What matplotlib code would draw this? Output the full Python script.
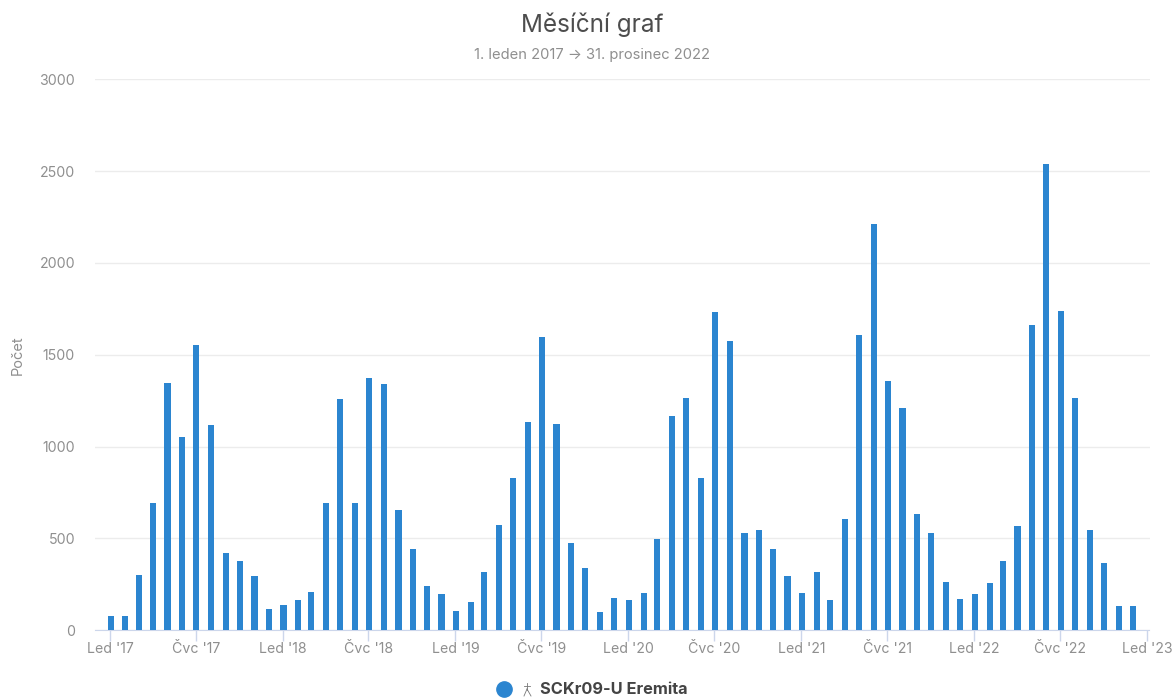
import pandas as pd
import matplotlib.pyplot as plt
from matplotlib.lines import Line2D

plt.rcParams['font.family'] = ['Inter', 'DejaVu Sans']

months = pd.date_range('2017-01-01', '2022-12-01', freq='MS')
counts = [
    80, 80, 300, 695, 1345, 1050, 1555, 1120, 420, 375, 295, 115,
    140, 165, 210, 695, 1260, 695, 1375, 1340, 655, 440, 240, 195,
    105, 155, 320, 575, 830, 1135, 1595, 1125, 475, 340, 100, 175,
    165, 205, 495, 1165, 1265, 830, 1735, 1575, 530, 545, 445, 295,
    205, 315, 165, 605, 1610, 2210, 1360, 1210, 635, 530, 265, 170,
    195, 260, 375, 570, 1660, 2540, 1740, 1265, 545, 365, 135, 130,
]
tick_dates = pd.date_range('2017-01-01', '2023-01-01', freq='6MS')
tick_labels = ["Led '17", "Čvc '17", "Led '18", "Čvc '18", "Led '19", "Čvc '19", "Led '20",
               "Čvc '20", "Led '21", "Čvc '21", "Led '22", "Čvc '22", "Led '23"]
y_ticks = [0, 500, 1000, 1500, 2000, 2500, 3000]

W, H = 1172, 698
BLUE = '#2b85d0'
GREY = '#8f8f8f'

fig = plt.figure(figsize=(W / 100, H / 100), dpi=100)
ax = fig.add_axes([94.5 / W, 1 - 630.3 / H, (1149.5 - 94.5) / W, (630.3 - 79.3) / H])

# bars sit about a pixel right of the month tick in the original
ax.bar(months + pd.Timedelta(days=1.5), counts, width=13, color=BLUE, zorder=3)

ax.set_xlim(pd.Timestamp('2017-01-01') - pd.Timedelta(days=32.7), pd.Timestamp('2023-01-01') + pd.Timedelta(days=5.3))
ax.set_ylim(0, 3000)
ax.set_yticks(y_ticks)
ax.set_xticks(tick_dates)
ax.set_xticklabels(tick_labels, fontsize=10.2, color=GREY)
ax.tick_params(axis='x', length=8, width=1, color='#ccd6eb', pad=0.5)
ax.tick_params(axis='y', length=0, pad=14, labelsize=10.2, labelcolor=GREY)
for label in ax.get_xticklabels():
    label.set_clip_on(False)

ax.grid(axis='y', color='#ececec', linewidth=1, zorder=0)
ax.set_axisbelow(True)
for side in ['top', 'right', 'left']:
    ax.spines[side].set_visible(False)
ax.spines['bottom'].set_color('#ccd6eb')

fig.text(17.5 / W, 1 - 355 / H, 'Počet', rotation=90, ha='center', va='center', fontsize=10.5, color=GREY)
fig.text(592 / W, 1 - 24.5 / H, 'Měsíční graf', ha='center', va='center', fontsize=17.5, color='#4d4d4d')
fig.text(592.5 / W, 1 - 55.5 / H, '1. leden 2017 → 31. prosinec 2022', ha='center', va='center',
         fontsize=10.6, color=GREY)

# legend at the bottom
fig.add_artist(Line2D([504 / W], [1 - 689 / H], marker='o', markersize=11, color=BLUE, linestyle='None'))
hiker = [([527, 527], [683, 690]), ([527, 524], [689, 696]), ([527, 531], [689, 696]), ([524, 530], [686, 686])]
for xs, ys in hiker:
    fig.add_artist(Line2D([x / W for x in xs], [1 - y / H for y in ys], color='#777777', linewidth=0.6))
fig.text(539.5 / W, 1 - 690 / H, 'SCKr09-U Eremita', ha='left', va='center', fontsize=11.8,
         fontweight='bold', color='#444444')

fig.savefig('out.png', dpi=100)
